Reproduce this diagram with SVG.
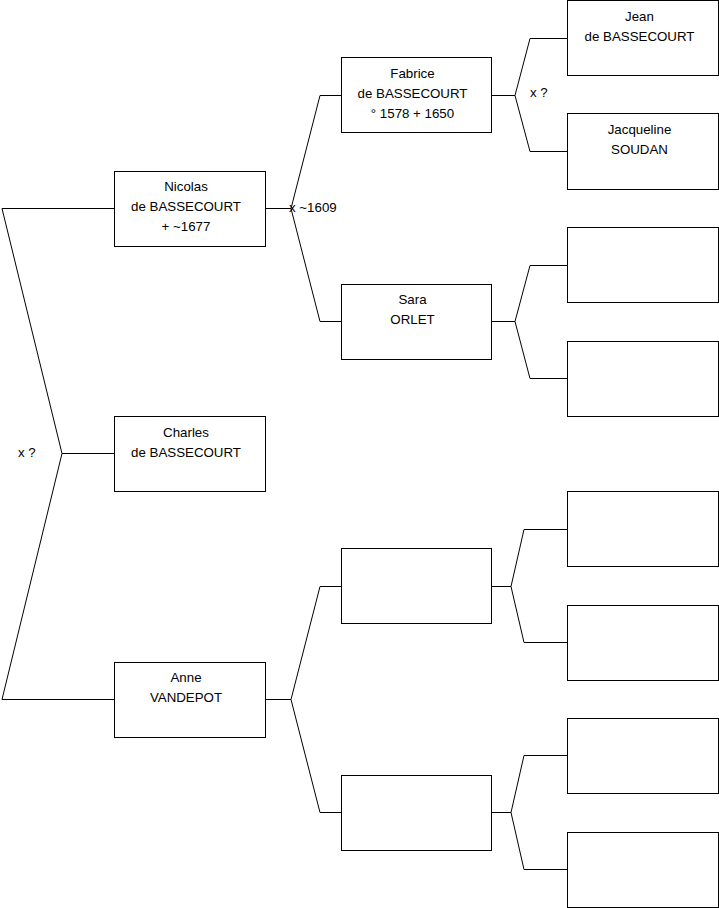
<svg xmlns="http://www.w3.org/2000/svg" width="719" height="908" viewBox="0 0 719 908">
<style>
.box{fill:#fff;stroke:#000;stroke-width:1}
.ln{fill:none;stroke:#000;stroke-width:1}
text{font-family:"Liberation Sans",Arial,sans-serif;font-size:13.3px;fill:#000}
.c{text-anchor:middle}
</style>
<rect width="719" height="908" fill="#fff"/>
<g id="connectors">
<path class="ln" d="M114.5,208.5 H2 L62,453.5 L2,699.5 H114.5 M62,453.5 H114.5"/>
<path class="ln" d="M265.5,208.5 H291 L320,95.5 H341.5 M291,208.5 L320,321.5 H341.5"/>
<path class="ln" d="M491.5,95.5 H515 L530,38.5 H567.5 M515,95.5 L530,151.5 H567.5"/>
<path class="ln" d="M491.5,321.5 H515 L530,265.5 H567.5 M515,321.5 L530,378.5 H567.5"/>
<path class="ln" d="M265.5,699.5 H291 L320,586.5 H341.5 M291,699.5 L320,812.5 H341.5"/>
<path class="ln" d="M491.5,586.5 H511 L524,529.5 H567.5 M511,586.5 L524,642.5 H567.5"/>
<path class="ln" d="M491.5,812.5 H511 L524,755.5 H567.5 M511,812.5 L524,869.5 H567.5"/>
<text x="18" y="457">x ?</text>
<text x="289" y="212">x ~1609</text>
<text x="530" y="97">x ?</text>
</g>
<g id="nicolas"><rect class="box" x="114.5" y="171.5" width="151" height="75"/>
<text class="c" x="186" y="191">Nicolas</text><text class="c" x="186" y="211">de BASSECOURT</text><text class="c" x="186" y="231">+ ~1677</text></g>
<g id="charles"><rect class="box" x="114.5" y="416.5" width="151" height="75"/>
<text class="c" x="186" y="437">Charles</text><text class="c" x="186" y="457">de BASSECOURT</text></g>
<g id="anne"><rect class="box" x="114.5" y="662.5" width="151" height="75"/>
<text class="c" x="186" y="682">Anne</text><text class="c" x="186" y="702">VANDEPOT</text></g>
<g id="fabrice"><rect class="box" x="341.5" y="57.5" width="150" height="75"/>
<text class="c" x="412.5" y="78">Fabrice</text><text class="c" x="412.5" y="98">de BASSECOURT</text><text class="c" x="412.5" y="118">° 1578 + 1650</text></g>
<g id="sara"><rect class="box" x="341.5" y="284.5" width="150" height="75"/>
<text class="c" x="412.5" y="304">Sara</text><text class="c" x="412.5" y="324">ORLET</text></g>
<g id="anne-father"><rect class="box" x="341.5" y="548.5" width="150" height="75"/></g>
<g id="anne-mother"><rect class="box" x="341.5" y="775.5" width="150" height="75"/></g>
<g id="jean"><rect class="box" x="567.5" y="0.5" width="151" height="75"/>
<text class="c" x="639.5" y="21">Jean</text><text class="c" x="639.5" y="41">de BASSECOURT</text></g>
<g id="jacqueline"><rect class="box" x="567.5" y="113.5" width="151" height="76"/>
<text class="c" x="639.5" y="134">Jacqueline</text><text class="c" x="639.5" y="154">SOUDAN</text></g>
<g id="sara-father"><rect class="box" x="567.5" y="227.5" width="151" height="75"/></g>
<g id="sara-mother"><rect class="box" x="567.5" y="341.5" width="151" height="75"/></g>
<g id="gp1"><rect class="box" x="567.5" y="491.5" width="151" height="75"/></g>
<g id="gp2"><rect class="box" x="567.5" y="605.5" width="151" height="75"/></g>
<g id="gp3"><rect class="box" x="567.5" y="718.5" width="151" height="75"/></g>
<g id="gp4"><rect class="box" x="567.5" y="832.5" width="151" height="75"/></g>
</svg>
